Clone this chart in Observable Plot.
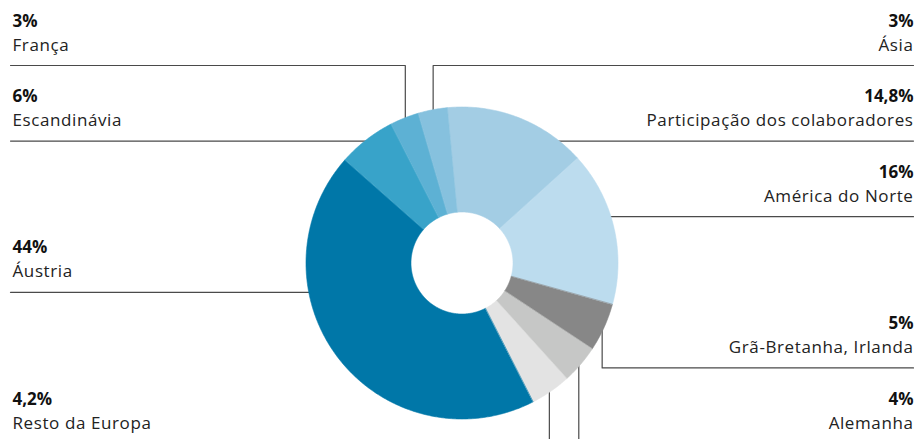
<!DOCTYPE html>
<html>
<head>
<meta charset="utf-8">
<script src="https://cdn.jsdelivr.net/npm/d3@7"></script>
<script src="https://cdn.jsdelivr.net/npm/@observablehq/plot@0.6"></script>
<style>
  html, body { margin: 0; padding: 0; background: #fff; overflow: hidden; }
  #chart svg { display: block; }
  #chart .name, #chart .name text { letter-spacing: 0.6px; }
</style>
</head>
<body>
<div id="chart"></div>
<script>
// ---- data ----
const categories = ["Participação dos colaboradores", "América do Norte", "Grã-Bretanha, Irlanda", "Alemanha", "Resto da Europa", "Áustria", "Escandinávia", "França", "Ásia"];
const values = [14.8, 16, 5, 4, 4.2, 44, 6, 3, 3];
const valueLabels = ["14,8%", "16%", "5%", "4%", "4,2%", "44%", "6%", "3%", "3%"];

// ---- styles & layout (not data) ----
const colors = ["#a3cde4", "#bcdcee", "#878787", "#c6c7c6", "#e3e3e3", "#0077a8", "#38a3c9", "#5db1d4", "#86c1de"];
const side = ["right", "right", "right", "right", "left", "left", "left", "left", "right"];
const row = [1, 2, 4, 5, 5, 3, 1, 0, 0];
const leader = ["h", "h", "v", "v", "v", "h", "h", "v", "v"];

const W = 918, H = 439;
const cx = 461.5, cy = 262.5, R = 156, r0 = 51;
const rowLine = i => 65 + 75.6 * i;
const leftX = 10, rightX = 913;

const pie = d3.pie().sort(null).value(d => d.value)
  .startAngle(-5.4 * Math.PI / 180).endAngle(-5.4 * Math.PI / 180 + 2 * Math.PI);
const table = categories.map((c, i) => ({category: c, value: values[i], label: valueLabels[i], side: side[i], row: row[i], leader: leader[i]}));
const arcs = pie(table);

const pt = (a, rad) => [cx + rad * Math.sin(a), cy - rad * Math.cos(a)];

// slice polygons
const slicePts = [];
arcs.forEach(a => {
  const n = Math.max(2, Math.ceil((a.endAngle - a.startAngle) / (Math.PI / 360)));
  for (let k = 0; k <= n; k++) {
    const t = a.startAngle + (a.endAngle - a.startAngle) * k / n;
    const [x, y] = pt(t, R);
    slicePts.push({category: a.data.category, x, y});
  }
  for (let k = n; k >= 0; k--) {
    const t = a.startAngle + (a.endAngle - a.startAngle) * k / n;
    const [x, y] = pt(t, r0);
    slicePts.push({category: a.data.category, x, y});
  }
});

// leader lines (drawn beneath the donut)
const leaderPts = [];
arcs.forEach(a => {
  const d = a.data;
  const mid = (a.startAngle + a.endAngle) / 2;
  const ly = rowLine(d.row);
  const edge = d.side === "left" ? leftX : rightX;
  if (d.leader === "h") {
    const half = Math.sqrt(Math.max(0, R * R - (ly - cy) * (ly - cy)));
    const endX = d.side === "left" ? cx - half + 12 : cx + half - 12;
    leaderPts.push({category: d.category, x: edge, y: ly});
    leaderPts.push({category: d.category, x: endX, y: ly});
  } else {
    const [px] = pt(mid, R - 2);
    const [, py] = pt(mid, R - 12);
    leaderPts.push({category: d.category, x: edge, y: ly});
    leaderPts.push({category: d.category, x: px, y: ly});
    leaderPts.push({category: d.category, x: px, y: py});
  }
});

const labelRows = table.map(d => ({
  ...d,
  tx: d.side === "left" ? 12 : 913,
  yPct: rowLine(d.row) - 39,
  yName: rowLine(d.row) - 15
}));

const font = "'Open Sans', 'Noto Sans', sans-serif";
const left = labelRows.filter(d => d.side === "left");
const right = labelRows.filter(d => d.side === "right");

const chart = Plot.plot({
  width: W,
  height: H,
  margin: 0,
  style: {background: "#fff", fontFamily: font, overflow: "hidden"},
  x: {domain: [0, W], range: [0, W], axis: null},
  y: {domain: [0, H], range: [0, H], axis: null},
  color: {domain: categories, range: colors},
  marks: [
    Plot.line(leaderPts, {x: "x", y: "y", z: "category", stroke: "#4a4a4a", strokeWidth: 1.2}),
    Plot.line(slicePts, {x: "x", y: "y", z: "category", fill: "category", stroke: "category", strokeWidth: 0.6, curve: "linear-closed"}),
    Plot.text(left, {x: "tx", y: "yPct", text: "label", textAnchor: "start", lineAnchor: "bottom", fontWeight: "bold", fontSize: 17, fill: "#111", className: "pct"}),
    Plot.text(right, {x: "tx", y: "yPct", text: "label", textAnchor: "end", lineAnchor: "bottom", fontWeight: "bold", fontSize: 17, fill: "#111", className: "pct"}),
    Plot.text(left, {x: "tx", y: "yName", text: "category", textAnchor: "start", lineAnchor: "bottom", fontSize: 17, fill: "#222", className: "name"}),
    Plot.text(right, {x: "tx", y: "yName", text: "category", textAnchor: "end", lineAnchor: "bottom", fontSize: 17, fill: "#222", className: "name"})
  ]
});
document.getElementById("chart").appendChild(chart);
</script>
</body>
</html>
